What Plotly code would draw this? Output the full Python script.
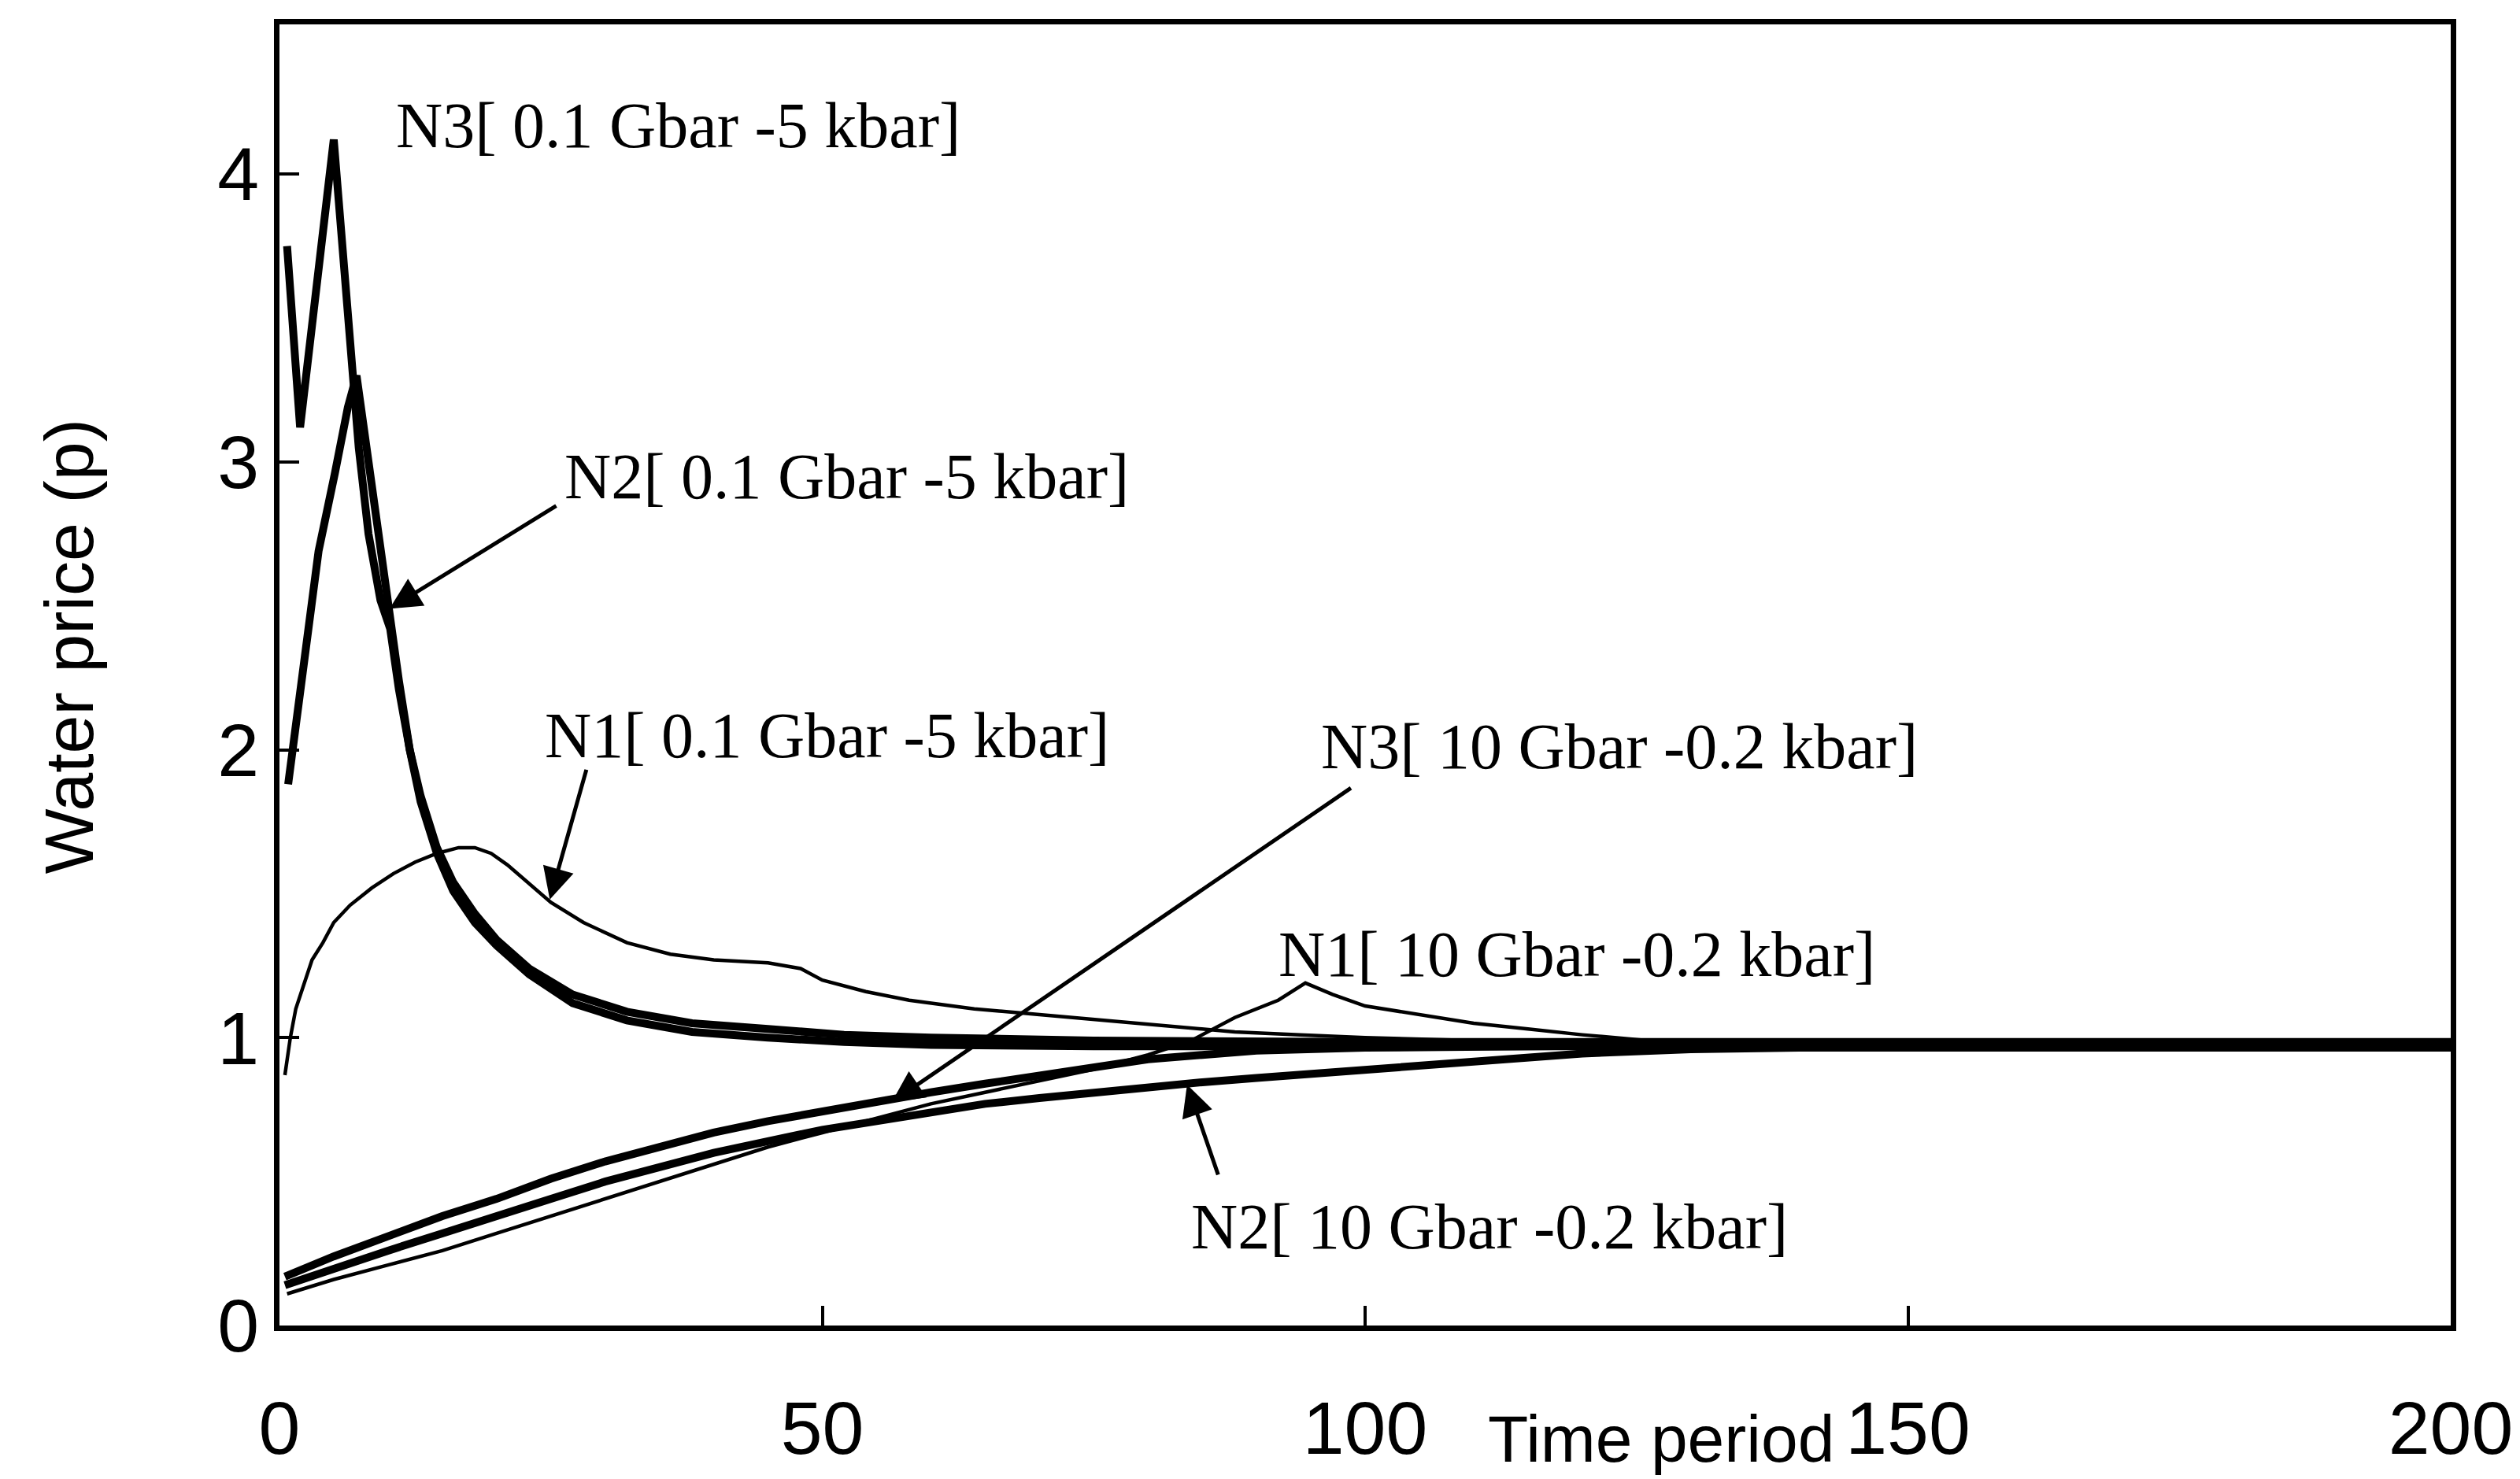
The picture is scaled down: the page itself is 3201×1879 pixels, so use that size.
import plotly.graph_objects as go

# ---------------- data ----------------
# N3 [0.1 Gbar - 5 kbar]  (thick)
n3_hi_t = [0.7, 1.9, 5.0, 5.8, 6.6, 7.3, 8.2, 9.3, 10.2, 11.0, 12.0, 13.0, 14.5, 16.0, 18.0, 20.0, 23.0, 27.0, 32.0, 38.0, 45.0, 52.0, 60.0, 75.0, 100.0, 140.0, 200.0]
n3_hi_v = [3.75, 3.12, 4.12, 3.75, 3.30, 3.05, 2.75, 2.52, 2.42, 2.21, 2.00, 1.84, 1.66, 1.54, 1.43, 1.34, 1.24, 1.15, 1.09, 1.05, 1.03, 1.01, 1.00, 0.99, 0.985, 0.985, 0.985]

# N2 [0.1 Gbar - 5 kbar]  (thick)
n2_hi_t = [0.8, 2.4, 3.6, 5.1, 6.3, 7.1, 8.0, 9.0, 10.0, 11.0, 12.0, 13.0, 14.5, 16.0, 18.0, 20.0, 23.0, 27.0, 32.0, 38.0, 45.0, 52.0, 60.0, 75.0, 100.0, 140.0, 200.0]
n2_hi_v = [1.88, 2.33, 2.69, 2.96, 3.19, 3.30, 3.05, 2.75, 2.50, 2.24, 2.00, 1.82, 1.64, 1.51, 1.40, 1.32, 1.22, 1.12, 1.06, 1.02, 1.00, 0.985, 0.975, 0.97, 0.97, 0.97, 0.97]

# N1 [0.1 Gbar - 5 kbar]  (thin)
n1_hi_t = [0.5, 1.0, 1.5, 2.2, 3.0, 4.0, 5.0, 6.5, 8.5, 10.5, 12.5, 14.5, 16.5, 18.0, 19.5, 21.0, 22.5, 24.0, 25.0, 28.0, 32.0, 36.0, 40.0, 45.0, 48.0, 50.0, 54.0, 58.0, 64.0, 70.0, 76.0, 82.0, 88.0, 94.0, 100.0, 110.0, 125.0, 200.0]
n1_hi_v = [0.87, 1.00, 1.10, 1.18, 1.27, 1.33, 1.40, 1.46, 1.52, 1.57, 1.61, 1.64, 1.66, 1.66, 1.64, 1.60, 1.55, 1.50, 1.47, 1.40, 1.33, 1.29, 1.27, 1.26, 1.24, 1.20, 1.16, 1.13, 1.10, 1.08, 1.06, 1.04, 1.02, 1.01, 1.00, 0.99, 0.98, 0.98]

# N3 [10 Gbar - 0.2 kbar]  (thick)
n3_lo_t = [0.5, 5, 10, 15, 20, 25, 30, 35, 40, 45, 50, 55, 60, 65, 70, 75, 80, 85, 90, 100, 110, 130, 200]
n3_lo_v = [0.17, 0.24, 0.31, 0.38, 0.44, 0.51, 0.57, 0.62, 0.67, 0.71, 0.745, 0.775, 0.81, 0.84, 0.87, 0.90, 0.925, 0.94, 0.955, 0.965, 0.97, 0.975, 0.975]

# N2 [10 Gbar - 0.2 kbar]  (thick)
n2_lo_t = [0.5, 5, 10, 15, 20, 25, 30, 35, 40, 45, 50, 55, 60, 65, 70, 75, 80, 85, 90, 100, 110, 120, 130, 140, 200]
n2_lo_v = [0.14, 0.20, 0.26, 0.32, 0.38, 0.44, 0.50, 0.55, 0.60, 0.64, 0.68, 0.71, 0.74, 0.77, 0.79, 0.81, 0.83, 0.845, 0.86, 0.89, 0.92, 0.945, 0.96, 0.965, 0.965]

# N1 [10 Gbar - 0.2 kbar]  (thin)
n1_lo_t = [0.7, 5, 10, 15, 20, 25, 30, 35, 40, 45, 50, 55, 60, 65, 70, 75, 80, 84, 88, 92, 94.5, 97, 100, 105, 110, 115, 120, 126, 135, 200]
n1_lo_v = [0.11, 0.16, 0.21, 0.26, 0.32, 0.38, 0.44, 0.50, 0.56, 0.62, 0.67, 0.72, 0.77, 0.81, 0.85, 0.89, 0.94, 0.99, 1.07, 1.13, 1.19, 1.15, 1.11, 1.08, 1.05, 1.03, 1.01, 0.99, 0.98, 0.98]

x_ticks = [0, 50, 100, 150, 200]
y_ticks = [0, 1, 2, 3, 4]

labels = ["N3[ 0.1 Gbar -5 kbar]", "N2[ 0.1 Gbar -5 kbar]", "N1[ 0.1 Gbar -5 kbar]",
          "N3[ 10 Gbar -0.2 kbar]", "N1[ 10 Gbar -0.2 kbar]", "N2[ 10 Gbar -0.2 kbar]"]
label_x = [10.6, 26.1, 24.3, 95.8, 91.9, 83.8]
label_y = [4.17, 2.95, 2.05, 2.01, 1.29, 0.344]

# arrows: (tip_x, tip_y, tail_x, tail_y)
arrow_tip_x = [10.13, 24.9, 56.4, 83.6]
arrow_tip_y = [2.49, 1.48, 0.776, 0.837]
arrow_tail_x = [25.6, 28.3, 98.8, 86.5]
arrow_tail_y = [2.85, 1.935, 1.87, 0.52]

# ---------------- figure ----------------
fig = go.Figure()
series = [
    (n1_hi_t, n1_hi_v, 4.5),
    (n1_lo_t, n1_lo_v, 4.5),
    (n2_lo_t, n2_lo_v, 10),
    (n3_lo_t, n3_lo_v, 10),
    (n2_hi_t, n2_hi_v, 10),
    (n3_hi_t, n3_hi_v, 10),
]
for xs, ys, w in series:
    fig.add_trace(go.Scatter(x=xs, y=ys, mode="lines",
                             line=dict(color="black", width=w),
                             showlegend=False, hoverinfo="skip"))

serif = "Liberation Serif, Times New Roman, serif"
sans = "Liberation Sans, Arial, sans-serif"

annotations = []
for txt, lx, ly in zip(labels, label_x, label_y):
    annotations.append(dict(x=lx, y=ly, xref="x", yref="y", text=txt, showarrow=False,
                            xanchor="left", yanchor="middle",
                            font=dict(family=serif, size=82, color="black")))
for tx, ty, ax, ay in zip(arrow_tip_x, arrow_tip_y, arrow_tail_x, arrow_tail_y):
    annotations.append(dict(x=tx, y=ty, xref="x", yref="y", ax=ax, ay=ay,
                            axref="x", ayref="y", text="", showarrow=True,
                            arrowhead=2, arrowsize=1.6, arrowwidth=5, arrowcolor="black"))

annotations.append(dict(x=127.3, y=-0.087, xref="x", yref="paper", text="Time period",
                        showarrow=False, xanchor="center", yanchor="middle",
                        font=dict(family=sans, size=84, color="black")))
annotations.append(dict(x=-0.097, y=0.522, xref="paper", yref="paper", text="Water price (p)",
                        showarrow=False, textangle=-90, xanchor="center", yanchor="middle",
                        font=dict(family=sans, size=88, color="black")))

fig.update_layout(
    width=3201, height=1879,
    margin=dict(l=355, r=88, t=31, b=195),
    paper_bgcolor="white", plot_bgcolor="white",
    annotations=annotations,
    showlegend=False,
)
fig.update_xaxes(range=[0, 200], tickvals=x_ticks, ticktext=[str(v) for v in x_ticks],
                 ticks="inside", ticklen=25, tickwidth=4, tickcolor="black",
                 showline=True, linewidth=7, linecolor="black", mirror=True,
                 showgrid=False, zeroline=False, automargin=False,
                 tickfont=dict(family=sans, size=95, color="black"),
                 ticklabelstandoff=42)
fig.update_yaxes(range=[0, 4.52], tickvals=y_ticks, ticktext=[str(v) for v in y_ticks],
                 ticks="inside", ticklen=25, tickwidth=4, tickcolor="black",
                 showline=True, linewidth=7, linecolor="black", mirror=True,
                 showgrid=False, zeroline=False, automargin=False,
                 tickfont=dict(family=sans, size=95, color="black"),
                 ticklabelstandoff=0)

fig.write_html("out.html")
